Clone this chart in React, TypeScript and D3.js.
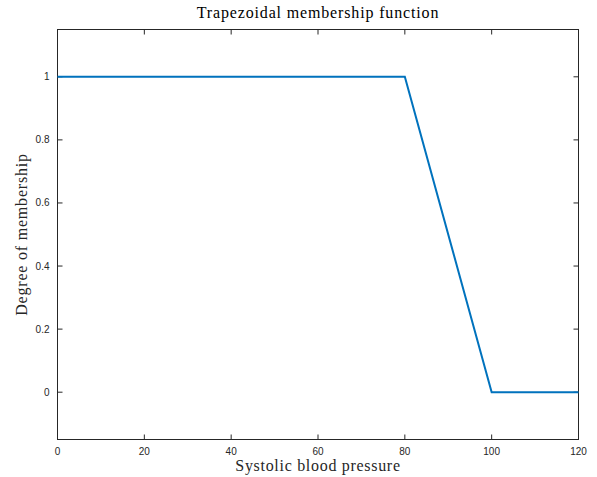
import React, { useRef, useEffect } from 'react';
import * as d3 from 'd3';

const pressure = [0, 80, 100, 120];
const membership = [1, 1, 0, 0];
const xTicks = [0, 20, 40, 60, 80, 100, 120];
const yTicks = [0, 0.2, 0.4, 0.6, 0.8, 1];

export default function App() {
  const svgRef = useRef<SVGSVGElement>(null);

  useEffect(() => {
    const w = 597;
    const h = 477;
    const m = { left: 57.5, right: 18.5, top: 29.5, bottom: 37.5 };
    const svg = d3.select(svgRef.current);
    svg.selectAll('*').remove();

    const x = d3.scaleLinear().domain([0, 120]).range([m.left, w - m.right]);
    const y = d3.scaleLinear().domain([-0.15, 1.15]).range([h - m.bottom, m.top]);

    svg.append('rect').attr('width', w).attr('height', h).attr('fill', 'white');

    const axisColor = '#262626';
    const tickLen = 5;
    const sans = 'Liberation Sans, Arial, sans-serif';
    const serif = 'Liberation Serif, Times New Roman, serif';

    // box
    svg
      .append('rect')
      .attr('x', x(0))
      .attr('y', y(1.15))
      .attr('width', x(120) - x(0))
      .attr('height', y(-0.15) - y(1.15))
      .attr('fill', 'none')
      .attr('stroke', axisColor)
      .attr('stroke-width', 1);

    // x ticks
    const gx = svg.append('g');
    xTicks.forEach((t) => {
      gx.append('line')
        .attr('x1', x(t)).attr('x2', x(t))
        .attr('y1', y(-0.15)).attr('y2', y(-0.15) - tickLen)
        .attr('stroke', axisColor);
      gx.append('line')
        .attr('x1', x(t)).attr('x2', x(t))
        .attr('y1', y(1.15)).attr('y2', y(1.15) + tickLen)
        .attr('stroke', axisColor);
      gx.append('text')
        .attr('x', x(t))
        .attr('y', y(-0.15) + 15)
        .attr('text-anchor', 'middle')
        .style('font-family', sans)
        .style('font-size', '10px')
        .attr('fill', axisColor)
        .text(String(t));
    });

    // y ticks
    const gy = svg.append('g');
    yTicks.forEach((t) => {
      gy.append('line')
        .attr('x1', x(0)).attr('x2', x(0) + tickLen)
        .attr('y1', y(t)).attr('y2', y(t))
        .attr('stroke', axisColor);
      gy.append('line')
        .attr('x1', x(120)).attr('x2', x(120) - tickLen)
        .attr('y1', y(t)).attr('y2', y(t))
        .attr('stroke', axisColor);
      gy.append('text')
        .attr('x', x(0) - 8)
        .attr('y', y(t))
        .attr('dy', '0.35em')
        .attr('text-anchor', 'end')
        .style('font-family', sans)
        .style('font-size', '10px')
        .attr('fill', axisColor)
        .text(String(t));
    });

    // line
    const line = d3
      .line<number>()
      .x((d, i) => x(pressure[i]))
      .y((d) => y(d));
    svg
      .append('path')
      .datum(membership)
      .attr('d', line)
      .attr('fill', 'none')
      .attr('stroke', '#0072BD')
      .attr('stroke-width', 2);

    // labels
    svg
      .append('text')
      .attr('x', (x(0) + x(120)) / 2)
      .attr('y', 18)
      .attr('text-anchor', 'middle')
      .style('font-family', serif)
      .style('font-size', '16px')
      .style('letter-spacing', '0.85px')
      .attr('fill', 'black')
      .text('Trapezoidal membership function');

    svg
      .append('text')
      .attr('x', (x(0) + x(120)) / 2)
      .attr('y', 471)
      .attr('text-anchor', 'middle')
      .style('font-family', serif)
      .style('font-size', '16px')
      .style('letter-spacing', '0.7px')
      .attr('fill', axisColor)
      .text('Systolic blood pressure');

    svg
      .append('text')
      .attr('transform', `translate(27, ${(y(-0.15) + y(1.15)) / 2}) rotate(-90)`)
      .attr('text-anchor', 'middle')
      .style('font-family', serif)
      .style('font-size', '16px')
      .style('letter-spacing', '0.8px')
      .attr('fill', axisColor)
      .text('Degree of membership');
  }, []);

  return (
    <svg
      ref={svgRef}
      width={597}
      height={477}
      style={{ position: 'absolute', left: 0, top: 0 }}
    ></svg>
  );
}
